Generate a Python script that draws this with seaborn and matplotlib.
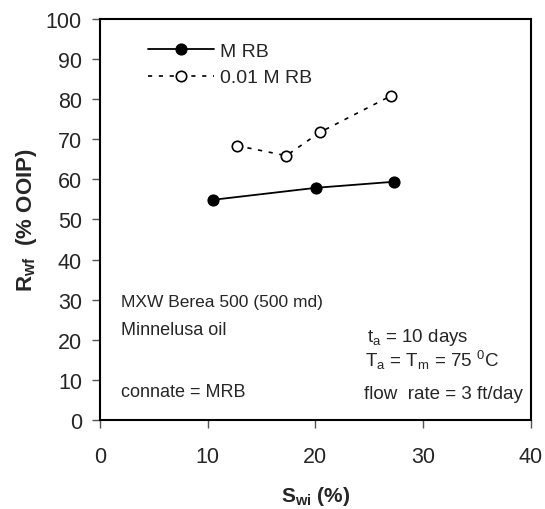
import matplotlib
matplotlib.use('Agg')
import matplotlib.pyplot as plt
import pandas as pd
import seaborn as sns

# data
swi_mrb = [10.5, 20.1, 27.3]
rwf_mrb = [54.9, 57.9, 59.4]
swi_dil = [12.7, 17.3, 20.4, 27.0]
rwf_dil = [68.4, 65.9, 71.7, 80.8]
series_names = ['M RB', '0.01 M RB']

df = pd.concat([
    pd.DataFrame({'swi': swi_mrb, 'rwf': rwf_mrb, 'brine': series_names[0]}),
    pd.DataFrame({'swi': swi_dil, 'rwf': rwf_dil, 'brine': series_names[1]}),
])

# ===
# plot
# ===

sns.set_style('white')
plt.rcParams['font.family'] = ['Liberation Sans', 'DejaVu Sans']
plt.rcParams['mathtext.fontset'] = 'custom'
plt.rcParams['mathtext.rm'] = 'Liberation Sans'
plt.rcParams['mathtext.it'] = 'Liberation Sans'
plt.rcParams['mathtext.bf'] = 'Liberation Sans:bold'

fig = plt.figure(figsize=(5.45, 5.10), dpi=100)
ax = fig.add_axes([0.1835, 0.1745, 0.7905, 0.7865])

sns.lineplot(data=df[df['brine'] == series_names[0]], x='swi', y='rwf', ax=ax,
             color='black', lw=1.3, marker='o', markersize=8,
             markerfacecolor='black', markeredgecolor='black', label=series_names[0])
sns.lineplot(data=df[df['brine'] == series_names[1]], x='swi', y='rwf', ax=ax,
             color='black', lw=1.2, linestyle=(0, (2.5, 4)), marker='o', markersize=7.5,
             markerfacecolor='white', markeredgecolor='black', markeredgewidth=1.2,
             label=series_names[1])

ax.set_xlim(0, 40)
ax.set_ylim(0, 100)
ax.set_xticks(range(0, 41, 10))
ax.set_yticks(range(0, 101, 10))
ax.tick_params(axis='both', labelsize=15.5, length=6, width=1, color='#555555',
               direction='out', left=True, bottom=True)
ax.tick_params(axis='y', pad=7)
ax.tick_params(axis='x', pad=13)
for s in ax.spines.values():
    s.set_linewidth(1.5)
    s.set_color('black')

ax.set_xlabel(r'$\mathbf{S_{wi}}$ (%)', fontsize=15, fontweight='bold', labelpad=12)
ax.set_ylabel(r'$\mathbf{R_{wf}}$  (% OOIP)', fontsize=16, fontweight='bold', labelpad=5)

ax.legend(loc='upper left', frameon=False, fontsize=14, handlelength=3.4,
          handletextpad=0.3, labelspacing=0.45, bbox_to_anchor=(0.07, 0.985))

ax.text(1.95, 28.4, 'MXW Berea 500 (500 md)', fontsize=12.5, ha='left', va='baseline')
ax.text(1.95, 21.4, 'Minnelusa oil', fontsize=13, ha='left', va='baseline')
ax.text(1.95, 6.0, 'connate = MRB', fontsize=13, ha='left', va='baseline')
ax.text(24.8, 19.7, r't$_\mathrm{a}$ = 10 days', fontsize=13.5, ha='left', va='baseline')
ax.text(24.6, 13.4, r'T$_\mathrm{a}$ = T$_\mathrm{m}$ = 75 $^\mathrm{0}$C', fontsize=13.5,
        ha='left', va='baseline')
ax.text(24.5, 5.6, 'flow  rate = 3 ft/day', fontsize=13.5, ha='left', va='baseline')

fig.savefig('out.png', dpi=100)
